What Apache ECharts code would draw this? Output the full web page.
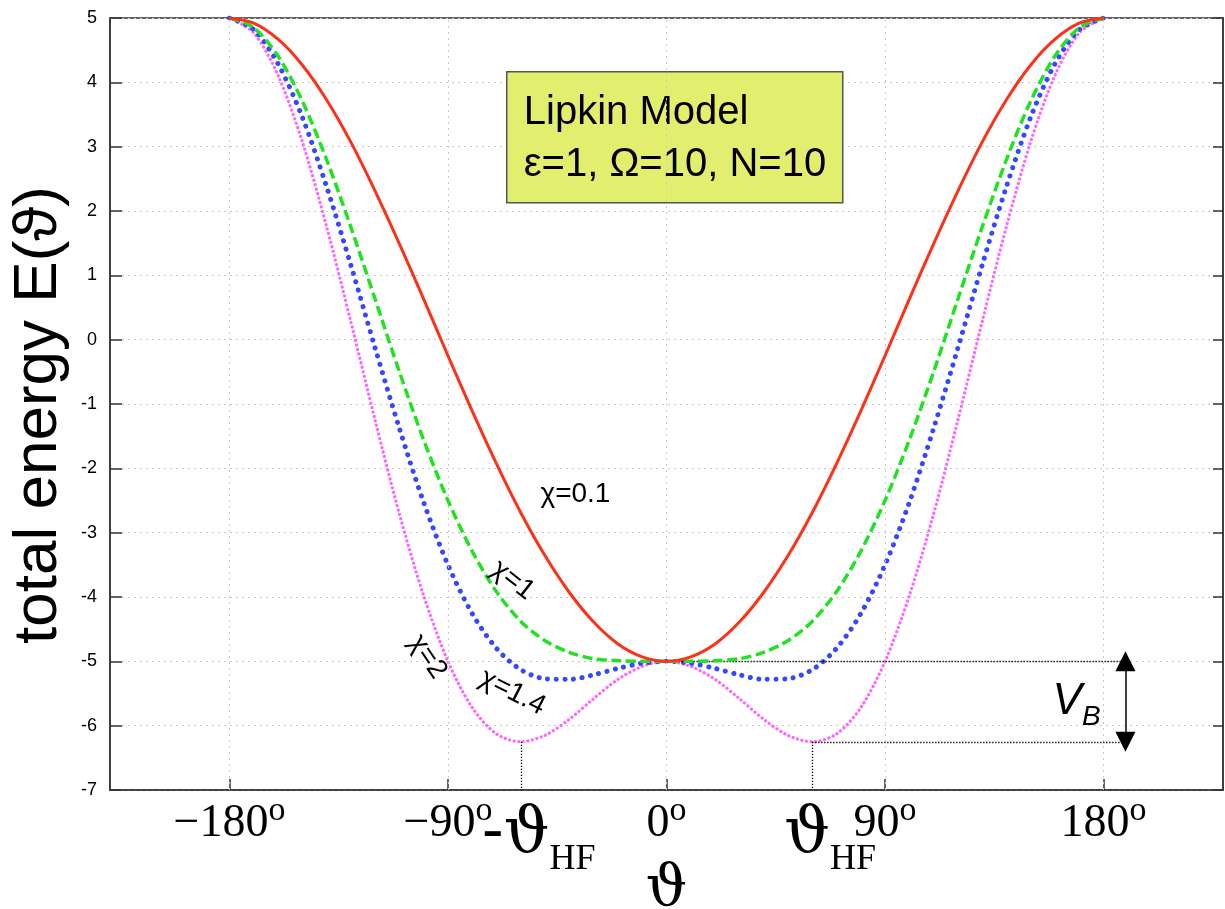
<!DOCTYPE html>
<html>
<head>
<meta charset="utf-8">
<title>Lipkin Model</title>
<script src="https://cdn.jsdelivr.net/npm/echarts@6/dist/echarts.min.js"></script>
<style>
  html, body { margin: 0; padding: 0; background: #fff; }
  #chart { width: 1225px; height: 909px; }
</style>
</head>
<body>
<div id="chart"></div>
<script>
// angle in degrees, energies (every 10 degrees)
const theta = [-180, -170, -160, -150, -140, -130, -120, -110, -100, -90, -80, -70, -60, -50, -40, -30, -20, -10,
  0, 10, 20, 30, 40, 50, 60, 70, 80, 90, 100, 110, 120, 130, 140, 150, 160, 170, 180]

const eChi01 = [5, 4.92, 4.67, 4.27, 3.73, 3.07, 2.31, 1.49, 0.63, -0.25, -1.11, -1.93, -2.69, -3.36, -3.93, -4.39, -4.73, -4.93,
  -5, -4.93, -4.73, -4.39, -3.93, -3.36, -2.69, -1.93, -1.11, -0.25, 0.63, 1.49, 2.31, 3.07, 3.73, 4.27, 4.67, 4.92, 5]
const eChi1 = [5, 4.85, 4.41, 3.71, 2.80, 1.75, 0.63, -0.50, -1.56, -2.5, -3.29, -3.92, -4.38, -4.68, -4.86, -4.96, -4.99, -5,
  -5, -5, -4.99, -4.96, -4.86, -4.68, -4.38, -3.92, -3.29, -2.5, -1.56, -0.50, 0.63, 1.75, 2.80, 3.71, 4.41, 4.85, 5]
const eChi14 = [5, 4.82, 4.29, 3.46, 2.38, 1.16, -0.13, -1.38, -2.53, -3.5, -4.26, -4.80, -5.13, -5.27, -5.28, -5.21, -5.11, -5.03,
  -5, -5.03, -5.11, -5.21, -5.28, -5.27, -5.13, -4.80, -4.26, -3.5, -2.53, -1.38, -0.13, 1.16, 2.38, 3.46, 4.29, 4.82, 5]
const eChi2 = [5, 4.77, 4.11, 3.08, 1.76, 0.28, -1.25, -2.71, -3.98, -5, -5.72, -6.13, -6.25, -6.15, -5.90, -5.58, -5.28, -5.08,
  -5, -5.08, -5.28, -5.58, -5.90, -6.15, -6.25, -6.13, -5.72, -5, -3.98, -2.71, -1.25, 0.28, 1.76, 3.08, 4.11, 4.77, 5]

const xTicks = [-180, -90, 0, 90, 180]
const thetaHF = 60        // position of the chi=2 minima
const eBarrierTop = -5
const eBarrierBottom = -6.25
const xArrow = 189        // where the V_B arrow sits

const pairs = (ys) => theta.map((t, i) => [t, ys[i]])

const serif = 'Liberation Serif, DejaVu Serif, serif'
const thetaFont = 'DejaVu Serif, serif'
const sans = 'Liberation Sans, DejaVu Sans, sans-serif'

const chart = echarts.init(document.getElementById('chart'))

const xLabel = (v) => {
  if (v === -thetaHF) return '{th|-\u03d1}{sub|HF}'
  if (v === thetaHF) return '{th|\u03d1}{sub|HF}'
  return '{deg|' + (v < 0 ? '\u2212' : '') + Math.abs(v) + '}{sup|o}'
}

const dotted = { color: '#000', width: 1.3, type: [1.3, 1.7] }

const option = {
  animation: false,
  backgroundColor: '#fff',
  grid: {
    left: 110, right: 2, top: 18, bottom: 119,
    outerBoundsMode: 'none',
    containLabel: false,
    show: true, borderColor: '#333', borderWidth: 1.5
  },
  xAxis: {
    type: 'value',
    min: -229.18,
    max: 229.18,
    name: '\u03d1',
    nameLocation: 'middle',
    nameGap: 71,
    nameMoveOverlap: false,
    nameTextStyle: { fontFamily: thetaFont, fontSize: 58, color: '#000' },
    axisLine: { onZero: false, lineStyle: { color: '#333', width: 1.5 } },
    axisTick: { inside: true, length: 11, customValues: xTicks, lineStyle: { color: '#333', width: 1.5 } },
    axisLabel: {
      customValues: [-180, -90, -thetaHF, 0, thetaHF, 90, 180],
      margin: 10,
      formatter: xLabel,
      // line height is the largest lineHeight; padding shifts a token by (top - bottom) / 2
      rich: {
        deg: { fontFamily: serif, fontSize: 46, lineHeight: 48, color: '#000' },
        sup: { fontFamily: serif, fontSize: 34, lineHeight: 34, color: '#000', padding: [0, 0, 26, 0] },
        th: { fontFamily: thetaFont, fontSize: 64, lineHeight: 48, color: '#000', padding: [20, 0, 0, 36] },
        sub: { fontFamily: serif, fontSize: 36, lineHeight: 36, color: '#000', padding: [72, 0, 0, 0] }
      }
    },
    splitLine: { show: false }
  },
  yAxis: [
    {
      type: 'value',
      min: -7, max: 5, interval: 1,
      name: 'total energy E(\u03d1)',
      nameLocation: 'middle',
      nameGap: 35,
      nameTextStyle: { fontFamily: sans, fontSize: 62, color: '#000', padding: [0, 22, 0, 0] },
      axisLine: { show: true, onZero: false, lineStyle: { color: '#333', width: 1.5 } },
      axisTick: { inside: true, length: 12, lineStyle: { color: '#333', width: 1.5 } },
      axisLabel: { fontFamily: sans, fontSize: 18, color: '#000', margin: 13 },
      splitLine: { show: true, lineStyle: { color: '#c8c8c8', width: 1, type: [2, 4] } }
    },
    {
      type: 'value',
      position: 'right',
      min: -7, max: 5, interval: 1,
      axisLine: { show: true, onZero: false, lineStyle: { color: '#333', width: 1.5 } },
      axisTick: { inside: true, length: 10, lineStyle: { color: '#333', width: 1.5 } },
      axisLabel: { show: false },
      splitLine: { show: false }
    }
  ],
  series: [
    {
      // vertical grid lines
      type: 'line', data: [], z: 1, silent: true,
      markLine: {
        silent: true, symbol: 'none', label: { show: false },
        lineStyle: { color: '#c8c8c8', width: 1, type: [2, 4] },
        data: xTicks.map(v => ({ xAxis: v }))
      }
    },
    {
      // V_B construction lines
      type: 'line', data: [], z: 2, silent: true,
      markLine: {
        silent: true, symbol: 'none', label: { show: false },
        lineStyle: dotted,
        data: [
          [{ coord: [0, eBarrierTop] }, { coord: [xArrow, eBarrierTop] }],
          [{ coord: [thetaHF, eBarrierBottom] }, { coord: [xArrow, eBarrierBottom] }],
          [{ coord: [-thetaHF, eBarrierBottom] }, { coord: [-thetaHF, -7] }],
          [{ coord: [thetaHF, eBarrierBottom] }, { coord: [thetaHF, -7] }],
          [
            { coord: [xArrow, eBarrierTop], symbol: 'triangle', symbolSize: [20, 20],
              lineStyle: { color: '#000', width: 1.5, type: 'solid' } },
            { coord: [xArrow, eBarrierBottom], symbol: 'triangle', symbolSize: [20, 20] }
          ]
        ]
      }
    },
    {
      name: '\u03c7=0.1', type: 'line', data: pairs(eChi01), showSymbol: false, smooth: 0.3, z: 6,
      lineStyle: { color: '#ff3018', width: 3 }
    },
    {
      name: '\u03c7=1', type: 'line', data: pairs(eChi1), showSymbol: false, smooth: 0.3, z: 5,
      lineStyle: { color: '#1fe31f', width: 3.5, type: [10, 4.5] }
    },
    {
      name: '\u03c7=1.4', type: 'line', data: pairs(eChi14), showSymbol: false, smooth: 0.3, z: 4,
      lineStyle: { color: '#3348ff', width: 5, type: [0.1, 8.5], cap: 'round' }
    },
    {
      name: '\u03c7=2', type: 'line', data: pairs(eChi2), showSymbol: false, smooth: 0.3, z: 3,
      lineStyle: { color: '#ff66ff', width: 3.2, type: [0.1, 4.5], cap: 'round' }
    }
  ]
}

chart.setOption(option)

// annotations, placed in data coordinates
const at = (x, y) => chart.convertToPixel({ gridIndex: 0 }, [x, y])
const chiLabels = [
  { text: '\u03c7=0.1', pos: [-37.5, -2.4], rot: 0 },
  { text: '\u03c7=1', pos: [-63.4, -3.74], rot: -38 },
  { text: '\u03c7=1.4', pos: [-63.4, -5.48], rot: -27 },
  { text: '\u03c7=2', pos: [-98.4, -4.93], rot: -56 }
]
const vbPos = at(168.9, -5.63)

chart.setOption({
  graphic: [
    ...chiLabels.map(l => {
      const p = at(l.pos[0], l.pos[1])
      return {
        type: 'text', x: p[0], y: p[1], rotation: l.rot * Math.PI / 180, z: 20,
        style: { text: l.text, font: '28px ' + sans, fill: '#000', align: 'center', verticalAlign: 'middle' }
      }
    }),
    {
      type: 'text', x: vbPos[0], y: vbPos[1], z: 20,
      style: {
        text: '{v|V}{b|B}', align: 'center', verticalAlign: 'middle',
        rich: {
          v: { fontFamily: sans, fontStyle: 'italic', fontSize: 44, lineHeight: 44, fill: '#000' },
          b: { fontFamily: sans, fontStyle: 'italic', fontSize: 28, lineHeight: 28, fill: '#000', padding: [30, 0, 0, 0] }
        }
      }
    },
    {
      type: 'group', left: 506, top: 71, z: 30,
      children: [
        {
          type: 'rect', shape: { x: 0, y: 0, width: 336, height: 131 },
          style: { fill: '#e2ee6e', stroke: '#555', lineWidth: 1.5 }
        },
        {
          type: 'text', x: 17, y: 41,
          style: { text: 'Lipkin Model', font: '40px ' + sans, fill: '#000', verticalAlign: 'middle' }
        },
        {
          type: 'text', x: 17, y: 93,
          style: { text: '\u03b5=1, \u03a9=10, N=10', font: '40px ' + sans, fill: '#000', verticalAlign: 'middle' }
        }
      ]
    }
  ]
})
</script>
</body>
</html>
